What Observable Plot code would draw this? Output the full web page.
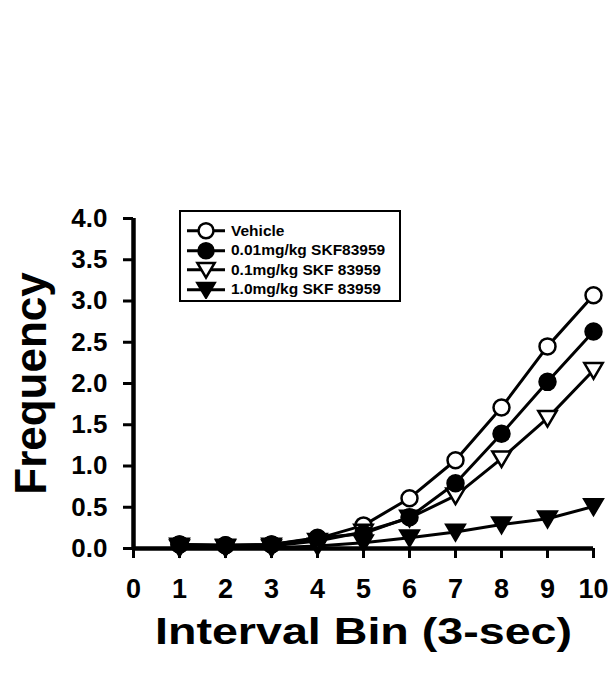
<!DOCTYPE html>
<html>
<head>
<meta charset="utf-8">
<script src="https://cdn.jsdelivr.net/npm/d3@7"></script>
<script src="https://cdn.jsdelivr.net/npm/@observablehq/plot@0.6"></script>
<style>
  html, body { margin: 0; padding: 0; background: #fff; }
  #wrap { position: relative; width: 615px; height: 676px; font-family: "Liberation Sans", Arial, sans-serif; }
  #legend { position: absolute; left: 179px; top: 210px; width: 222px; height: 92px; box-sizing: border-box;
            border: 2px solid #000; background: #fff; padding-top: 9px; }
  .row { height: 19.5px; display: flex; align-items: center; }
  .row svg { display: block; flex: none; }
  .row span { font-size: 15.5px; font-weight: bold; color: #000; margin-left: 0px; white-space: nowrap; }
</style>
</head>
<body>
<div id="wrap"></div>
<script>
// ---- data ----
const bins = [1, 2, 3, 4, 5, 6, 7, 8, 9, 10];
const seriesNames = ["Vehicle", "0.01mg/kg SKF83959", "0.1mg/kg SKF 83959", "1.0mg/kg SKF 83959"];
const vehicle = [0.05, 0.04, 0.05, 0.12, 0.28, 0.61, 1.07, 1.71, 2.45, 3.07];
const skf001  = [0.05, 0.04, 0.05, 0.13, 0.18, 0.38, 0.79, 1.39, 2.02, 2.63];
const skf01   = [0.03, 0.02, 0.03, 0.09, 0.20, 0.37, 0.64, 1.09, 1.58, 2.16];
const skf1    = [0.01, 0.01, 0.01, 0.03, 0.07, 0.13, 0.20, 0.29, 0.36, 0.51];
const xTicks = [0, 1, 2, 3, 4, 5, 6, 7, 8, 9, 10];
const yTicks = [0, 0.5, 1, 1.5, 2, 2.5, 3, 3.5, 4];
const xTitle = "Interval Bin (3-sec)";
const yTitle = "Frequency";

// marker styles per series
const triangleDown = {
  draw(ctx, size) {
    const s = Math.sqrt(size / Math.PI);
    ctx.moveTo(0, s * 1.05);
    ctx.lineTo(-s * 1.15, -s * 0.9);
    ctx.lineTo(s * 1.15, -s * 0.9);
    ctx.closePath();
  }
};
const styles = [
  {symbol: "circle", fill: "white"},
  {symbol: "circle", fill: "black"},
  {symbol: triangleDown, fill: "white"},
  {symbol: triangleDown, fill: "black"}
];
const values = [vehicle, skf001, skf01, skf1];
const data = values.flatMap((vals, si) => vals.map((v, i) => ({series: seriesNames[si], si, bin: bins[i], value: v})));

// draw order of markers (filled circle on top)
const drawOrder = [0, 3, 2, 1];

const chart = Plot.plot({
  width: 615,
  height: 676,
  marginLeft: 133,
  marginRight: 22,
  marginTop: 218,
  marginBottom: 128,
  style: {fontFamily: "'Liberation Sans', Arial, sans-serif", fontWeight: "bold", color: "#000", background: "#fff"},
  x: {domain: [0, 10], axis: null},
  y: {domain: [0, 4], axis: null},
  marks: [
    Plot.axisX({ticks: xTicks, tickSize: 10, tickPadding: 20, fontSize: 27, fontWeight: "bold", strokeWidth: 3, tickFormat: d => String(d), label: null}),
    Plot.axisY({ticks: yTicks, tickSize: 10, tickPadding: 16, fontSize: 26, fontWeight: "bold", strokeWidth: 3, tickFormat: d => d.toFixed(1), label: null}),
    Plot.line(data, {x: "bin", y: "value", z: "series", stroke: "black", strokeWidth: 3}),
    Plot.ruleY([0], {stroke: "black", strokeWidth: 4.5}),
    Plot.ruleX([0], {stroke: "black", strokeWidth: 4.5}),
    ...drawOrder.map(si => Plot.dot(data.filter(d => d.si === si), {
      x: "bin", y: "value", r: 8, symbol: styles[si].symbol, fill: styles[si].fill, stroke: "black", strokeWidth: 2.5
    })),
    Plot.text([xTitle], {frameAnchor: "bottom", dy: 95, fontSize: 36, fontWeight: "bold", textAnchor: "middle", className: "xtitle"}),
    Plot.text([yTitle], {frameAnchor: "left", dx: -102, rotate: -90, fontSize: 44, fontWeight: "bold", textAnchor: "middle", lineAnchor: "middle"})
  ]
});
d3.select(chart).selectAll(".xtitle text").attr("textLength", 417).attr("lengthAdjust", "spacingAndGlyphs");
document.getElementById("wrap").appendChild(chart);

// ---- legend ----
const legend = d3.select("#wrap").append("div").attr("id", "legend");
seriesNames.forEach((name, si) => {
  const row = legend.append("div").attr("class", "row");
  const svg = row.append("svg").attr("width", 50).attr("height", 19.5);
  svg.append("line").attr("x1", 6).attr("x2", 44).attr("y1", 9.75).attr("y2", 9.75).attr("stroke", "black").attr("stroke-width", 3);
  const st = styles[si];
  const r = 7.5;
  const p = d3.path();
  if (st.symbol === "circle") d3.symbolCircle.draw(p, r * r * Math.PI);
  else st.symbol.draw(p, r * r * Math.PI);
  svg.append("path").attr("d", p.toString()).attr("transform", "translate(25,9.75)")
    .attr("fill", st.fill).attr("stroke", "black").attr("stroke-width", 2.5);
  row.append("span").text(name);
});
</script>
</body>
</html>
